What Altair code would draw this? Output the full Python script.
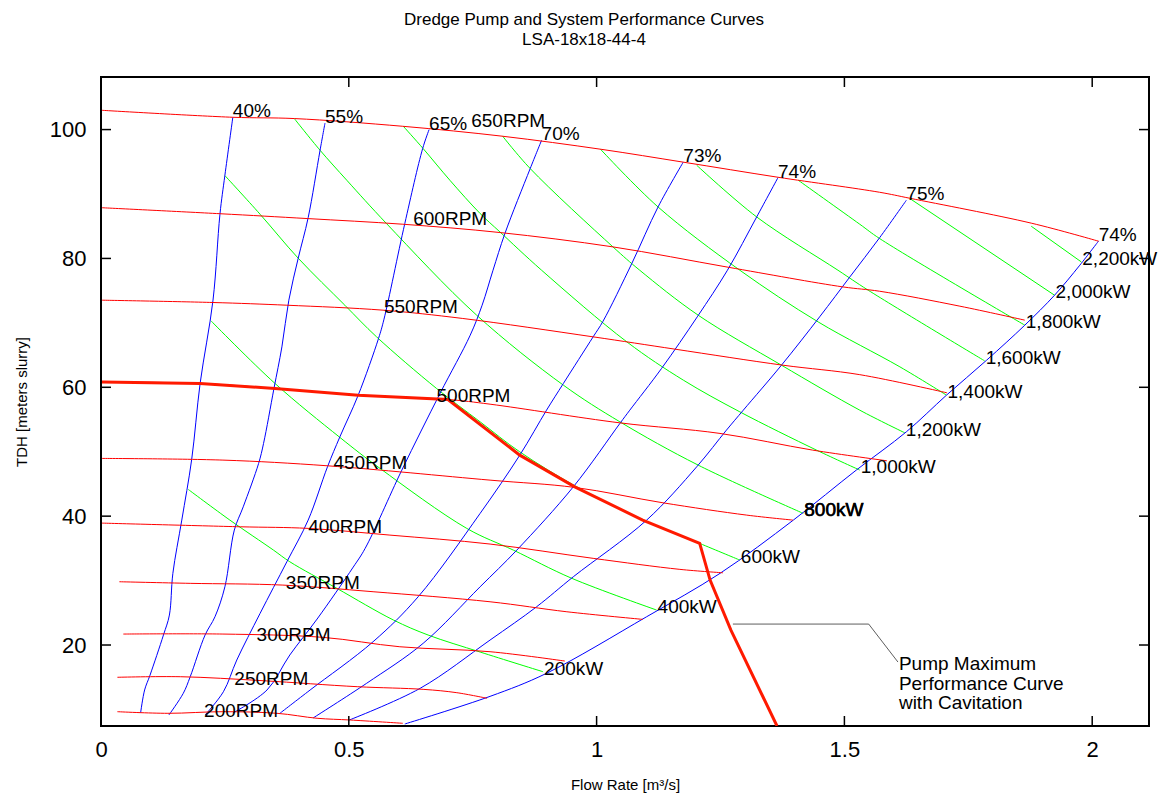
import altair as alt
import pandas as pd

FONT = "Liberation Sans"

# ---------------- data (flow Q in m3/s, head H in m) ----------------
# pump speed curves
rpm650_q = [0.002, 0.266, 0.390, 0.609, 0.811, 1.009, 1.176, 1.366, 1.571, 1.632, 1.878, 2.013]
rpm650_h = [102.99, 101.91, 101.71, 100.51, 98.96, 96.94, 94.93, 92.60, 90.27, 89.34, 85.46, 82.67]
rpm600_q = [0.002, 0.240, 0.416, 0.609, 0.805, 1.033, 1.265, 1.497, 1.571, 1.733, 1.864]
rpm600_h = [87.87, 86.94, 86.19, 85.31, 84.02, 81.79, 78.64, 75.58, 74.91, 72.59, 70.42]
rpm550_q = [0.002, 0.226, 0.375, 0.569, 0.730, 0.993, 1.158, 1.376, 1.531, 1.707]
rpm550_h = [73.52, 73.16, 72.74, 71.97, 70.68, 67.83, 65.92, 63.43, 61.96, 59.14]
rpm500_q = [0.002, 0.200, 0.351, 0.519, 0.700, 0.785, 1.047, 1.249, 1.436, 1.586]
rpm500_h = [60.84, 60.60, 59.82, 58.78, 58.11, 57.38, 54.48, 52.84, 50.25, 48.59]
rpm450_q = [0.002, 0.246, 0.458, 0.785, 0.956, 1.134, 1.303, 1.396]
rpm450_h = [48.96, 48.70, 47.81, 45.59, 44.46, 42.07, 40.16, 39.39]
rpm400_q = [0.002, 0.281, 0.418, 0.583, 0.785, 0.993, 1.168, 1.255]
rpm400_h = [38.92, 38.35, 38.10, 37.06, 35.67, 33.45, 31.74, 31.21]
rpm350_q = [0.037, 0.180, 0.367, 0.549, 0.785, 0.940, 1.093]
rpm350_h = [29.82, 29.57, 29.30, 28.27, 26.71, 25.16, 23.98]
rpm300_q = [0.045, 0.246, 0.448, 0.603, 0.785, 0.936]
rpm300_h = [21.70, 21.70, 21.19, 19.73, 18.96, 17.51]
rpm250_q = [0.033, 0.160, 0.327, 0.517, 0.650, 0.718, 0.779]
rpm250_h = [14.99, 15.08, 14.46, 13.53, 13.12, 12.60, 11.73]
rpm200_q = [0.033, 0.135, 0.246, 0.355, 0.436, 0.503, 0.609]
rpm200_h = [9.65, 9.40, 9.65, 9.40, 8.63, 8.36, 7.85]

# maximum performance curve with cavitation
maxperf_q = [0.002, 0.200, 0.351, 0.519, 0.700, 0.845, 0.956, 1.093, 1.208, 1.229, 1.271, 1.364]
maxperf_h = [60.84, 60.60, 59.82, 58.78, 58.11, 49.47, 44.55, 39.39, 35.77, 30.08, 22.32, 7.43]

# iso-efficiency curves (first point = top end, where the label sits)
eff40_q = [0.266, 0.250, 0.240, 0.226, 0.200, 0.183, 0.163, 0.145, 0.138, 0.126, 0.099, 0.088, 0.080]
eff40_h = [101.91, 92.91, 86.86, 73.52, 60.60, 48.81, 39.39, 31.12, 24.65, 21.55, 15.34, 13.02, 9.50]
eff55_q = [0.452, 0.442, 0.418, 0.398, 0.379, 0.365, 0.349, 0.328, 0.318, 0.287, 0.269, 0.250, 0.230, 0.210, 0.180, 0.166, 0.137]
eff55_h = [101.02, 96.79, 86.32, 80.06, 73.52, 66.27, 59.82, 51.29, 48.18, 41.45, 37.84, 29.04, 24.39, 21.55, 15.08, 12.50, 9.14]
eff65_q = [0.662, 0.649, 0.613, 0.571, 0.560, 0.519, 0.482, 0.457, 0.418, 0.375, 0.321, 0.274, 0.247, 0.210]
eff65_h = [100.00, 97.05, 85.42, 70.57, 67.58, 58.78, 52.31, 47.66, 39.39, 32.92, 24.91, 17.67, 12.75, 9.14]
eff70_q = [0.889, 0.866, 0.815, 0.791, 0.769, 0.745, 0.684, 0.607, 0.533, 0.509, 0.436, 0.381, 0.335, 0.266]
eff70_h = [98.34, 93.95, 83.87, 78.17, 72.74, 68.09, 59.04, 47.15, 35.00, 32.10, 24.03, 18.45, 13.02, 9.45]
eff73_q = [1.175, 1.124, 1.071, 1.013, 0.993, 0.933, 0.899, 0.845, 0.765, 0.640, 0.549, 0.422, 0.361]
eff73_h = [94.97, 87.99, 79.21, 70.26, 67.83, 60.60, 56.45, 49.47, 40.43, 27.49, 20.51, 13.02, 9.40]
eff74_q = [1.366, 1.323, 1.264, 1.204, 1.131, 1.067, 1.047, 0.953, 0.839, 0.765, 0.650, 0.536, 0.428]
eff74_h = [92.55, 86.44, 78.17, 71.04, 62.92, 56.45, 54.39, 44.55, 34.73, 29.04, 20.26, 14.06, 8.68]
eff75_q = [1.625, 1.571, 1.511, 1.450, 1.373, 1.296, 1.262, 1.202, 1.101, 0.953, 0.879, 0.785, 0.644, 0.501]
eff75_h = [89.03, 83.21, 77.13, 70.93, 63.43, 56.45, 53.35, 47.66, 39.39, 30.59, 25.94, 20.77, 13.28, 8.36]
eff74r_q = [2.013, 1.975, 1.924, 1.864, 1.787, 1.706, 1.625, 1.524, 1.397, 1.249, 1.101, 0.899, 0.785, 0.613]
eff74r_h = [82.72, 78.95, 74.29, 69.64, 64.21, 58.78, 53.09, 47.15, 39.39, 31.12, 24.39, 15.61, 12.03, 7.74]

# iso-power curves (last point = right end, where the label sits)
pw200_q = [0.176, 0.260, 0.348, 0.381, 0.476, 0.590, 0.660, 0.765, 0.892]
pw200_h = [44.15, 39.39, 34.73, 32.92, 28.79, 23.88, 21.55, 18.91, 15.85]
pw400_q = [0.222, 0.351, 0.482, 0.563, 0.738, 0.832, 0.950, 1.121]
pw400_h = [70.31, 60.60, 52.22, 47.41, 38.10, 34.73, 30.35, 25.43]
pw600_q = [0.250, 0.321, 0.398, 0.492, 0.556, 0.677, 0.765, 0.845, 0.960, 1.094, 1.208, 1.289]
pw600_h = [92.86, 86.86, 80.03, 72.74, 67.83, 59.82, 54.64, 49.98, 44.55, 39.39, 35.77, 33.18]
pw800_q = [0.390, 0.442, 0.496, 0.576, 0.758, 0.933, 1.047, 1.205, 1.417]
pw800_h = [101.71, 96.79, 92.13, 85.42, 71.19, 60.33, 54.64, 47.92, 40.43]
pw1000_q = [0.610, 0.650, 0.704, 0.765, 0.805, 0.889, 1.061, 1.175, 1.289, 1.444, 1.531]
pw1000_h = [100.51, 97.05, 92.13, 86.97, 84.11, 78.17, 67.05, 61.11, 56.19, 50.24, 47.15]
pw1200_q = [0.810, 0.866, 1.033, 1.087, 1.205, 1.373, 1.531, 1.622]
pw1200_h = [99.01, 93.95, 81.79, 78.17, 71.19, 63.43, 56.45, 52.93]
pw1400_q = [1.008, 1.124, 1.289, 1.447, 1.612, 1.706]
pw1400_h = [96.94, 87.99, 78.17, 70.15, 63.17, 58.78]
pw1600_q = [1.202, 1.323, 1.487, 1.548, 1.783]
pw1600_h = [94.46, 86.44, 78.17, 75.07, 64.10]
pw1800_q = [1.407, 1.531, 1.571, 1.864]
pw1800_h = [92.13, 85.31, 83.09, 69.64]
pw2000_q = [1.632, 1.924]
pw2000_h = [89.30, 74.29]
pw2200_q = [1.877, 1.978]
pw2200_h = [85.00, 79.46]

# callout for the maximum performance curve
annot_q = [1.275, 1.549, 1.608]
annot_h = [23.25, 23.25, 17.36]
annot_text = "Pump Maximum\nPerformance Curve\nwith Cavitation"

# speed labels
rpm_labels = ["650RPM", "600RPM", "550RPM", "500RPM", "450RPM",
              "400RPM", "350RPM", "300RPM", "250RPM", "200RPM"]
rpm_label_q = [0.747, 0.630, 0.571, 0.677, 0.469, 0.418, 0.373, 0.314, 0.269, 0.208]
rpm_label_h = [101.29, 86.08, 72.43, 58.70, 48.18, 38.30, 29.61, 21.50, 14.67, 9.76]

# axes
x_ticks = [0, 0.5, 1, 1.5, 2]
y_ticks = [20, 40, 60, 80, 100]
x_domain = [0, 2.1146]
y_domain = [7.43, 108.16]

# ---------------- tables ----------------
rpm_curves = [("650RPM", rpm650_q, rpm650_h), ("600RPM", rpm600_q, rpm600_h),
              ("550RPM", rpm550_q, rpm550_h), ("500RPM", rpm500_q, rpm500_h),
              ("450RPM", rpm450_q, rpm450_h), ("400RPM", rpm400_q, rpm400_h),
              ("350RPM", rpm350_q, rpm350_h), ("300RPM", rpm300_q, rpm300_h),
              ("250RPM", rpm250_q, rpm250_h), ("200RPM", rpm200_q, rpm200_h)]
eff_curves = [("40%", eff40_q, eff40_h), ("55%", eff55_q, eff55_h),
              ("65%", eff65_q, eff65_h), ("70%", eff70_q, eff70_h),
              ("73%", eff73_q, eff73_h), ("74%", eff74_q, eff74_h),
              ("75%", eff75_q, eff75_h), ("74% ", eff74r_q, eff74r_h)]
pow_curves = [("200kW", pw200_q, pw200_h), ("400kW", pw400_q, pw400_h),
              ("600kW", pw600_q, pw600_h), ("800kW", pw800_q, pw800_h),
              ("1,000kW", pw1000_q, pw1000_h), ("1,200kW", pw1200_q, pw1200_h),
              ("1,400kW", pw1400_q, pw1400_h), ("1,600kW", pw1600_q, pw1600_h),
              ("1,800kW", pw1800_q, pw1800_h), ("2,000kW", pw2000_q, pw2000_h),
              ("2,200kW", pw2200_q, pw2200_h)]


def frame(curves):
    rows = []
    for name, qs, hs in curves:
        for i, (q, h) in enumerate(zip(qs, hs)):
            rows.append({"series": name, "i": i, "Q": q, "H": h})
    return pd.DataFrame(rows)


rpm_df = frame(rpm_curves)
eff_df = frame(eff_curves)
pow_df = frame(pow_curves)
max_df = frame([("max", maxperf_q, maxperf_h)])
ann_df = frame([("ann", annot_q, annot_h)])

eff_lab = eff_df.groupby("series", sort=False).first().reset_index()
pow_lab = pow_df.groupby("series", sort=False).last().reset_index()
pow_lab_bold = pow_lab[pow_lab["series"] == "800kW"]
rpm_lab = pd.DataFrame({"series": rpm_labels, "Q": rpm_label_q, "H": rpm_label_h})
ann_lab = ann_df.tail(1).assign(series=annot_text)
xt_df = pd.DataFrame({"Q": x_ticks})
yt_df = pd.DataFrame({"H": y_ticks})

# ---------------- encodings ----------------
X = alt.X("Q:Q", scale=alt.Scale(domain=x_domain, nice=False, zero=False),
          axis=alt.Axis(values=x_ticks, format="~g", title="Flow Rate [m³/s]",
                        grid=False, ticks=False, tickSize=0, domain=False,
                        labelFlush=False, labelOverlap=False,
                        labelPadding=13, titlePadding=17))
Y = alt.Y("H:Q", scale=alt.Scale(domain=y_domain, nice=False, zero=False),
          axis=alt.Axis(values=y_ticks, format="d", title="TDH [meters slurry]",
                        grid=False, ticks=False, tickSize=0, domain=False,
                        labelFlush=False, labelOverlap=False,
                        labelPadding=15, titlePadding=20))


def lines(df, color, width, interp="linear"):
    return alt.Chart(df).mark_line(color=color, strokeWidth=width, clip=True,
                                   interpolate=interp).encode(
        x=X, y=Y, detail="series:N", order="i:Q")


def labels(df, baseline, dx=0, dy=0, **kw):
    return alt.Chart(df).mark_text(align="left", baseline=baseline, dx=dx, dy=dy,
                                   font=FONT, fontSize=19, color="black", **kw).encode(
        x=X, y=Y, text="series:N")


W, H = 1048, 649
TL = 10

layers = [
    lines(pow_df, "#00ff00", 1, "catmull-rom"),
    lines(eff_df, "#0000ff", 1, "catmull-rom"),
    lines(rpm_df, "#ff0000", 1, "catmull-rom"),
    lines(max_df, "#ff1a00", 3),
    lines(ann_df, "#333333", 0.8),
    labels(rpm_lab, "middle"),
    labels(eff_lab, "alphabetic"),
    labels(pow_lab, "middle", dx=1, dy=-3),
    labels(pow_lab_bold, "middle", dx=1, dy=-3, stroke="black", strokeWidth=0.5),
    labels(ann_lab, "alphabetic", dx=1, dy=8, lineBreak="\n", lineHeight=19.7),
    alt.Chart(xt_df).mark_rule(color="black", strokeWidth=1.5).encode(
        x=X, y=alt.value(H), y2=alt.value(H - TL)),
    alt.Chart(xt_df).mark_rule(color="black", strokeWidth=1.5).encode(
        x=X, y=alt.value(0), y2=alt.value(TL)),
    alt.Chart(yt_df).mark_rule(color="black", strokeWidth=1.5).encode(
        y=Y, x=alt.value(0), x2=alt.value(TL)),
    alt.Chart(yt_df).mark_rule(color="black", strokeWidth=1.5).encode(
        y=Y, x=alt.value(W), x2=alt.value(W - TL)),
]

chart = alt.layer(*layers).properties(
    width=W, height=H,
    title=alt.TitleParams(
        text=["Dredge Pump and System Performance Curves", "LSA-18x18-44-4"],
        font=FONT, fontSize=17, fontWeight="normal", color="black",
        anchor="middle", dx=-41, offset=27, lineHeight=20),
    padding={"left": 101, "top": 77, "right": 15, "bottom": 71},
    autosize=alt.AutoSizeParams(type="none"),
    background="white",
).configure_view(
    stroke="black", strokeWidth=2
).configure_axis(
    labelFont=FONT, labelFontSize=22, labelColor="black",
    titleFont=FONT, titleFontSize=15, titleFontWeight="normal", titleColor="black",
)

chart.save("out.html", embed_options={"renderer": "svg", "actions": False})
